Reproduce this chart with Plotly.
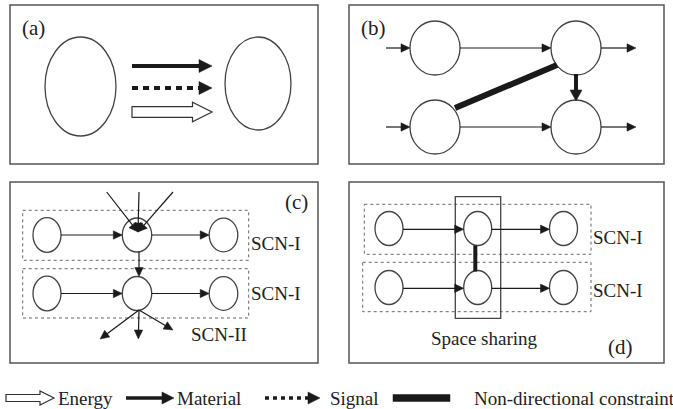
import math
import plotly.graph_objects as go

W, H = 673, 409
DARK = "#1a1a1a"
GRAY = "#444444"
FRAME = "#555555"
FONT = "Liberation Serif"

# ---- diagram content -------------------------------------------------
panel_labels = ["(a)", "(b)", "(c)", "(d)"]
panel_frames = [(10, 5, 318, 164), (349, 5, 664, 164), (10, 182, 318, 363), (349, 182, 664, 363)]
panel_label_pos = [(33.5, 28), (373, 28), (296, 202), (620, 347)]

# (a) two elements and three flow types
a_nodes = [(80.5, 86.5, 35.5, 49.5), (258, 83.5, 33, 46.5)]
a_flow_y = [66, 88, 112]
a_flow_x = (132, 212)

# (b) four elements
b_nodes = [(435, 48), (576, 48), (435, 127), (576, 127)]
b_r = (25, 27)

# (c) stacked SCN-I rows
c_row_y = [235, 293.5]
c_node_x = [47, 137, 223.5]
c_node_r = [(14, 17.3), (14.7, 17), (14.3, 16.8)]
c_boxes = [(22.7, 210.3, 248.7, 260.3), (22.7, 268.7, 248.7, 318)]
c_in_starts = [(106.7, 192), (139, 192), (173, 192)]
c_out_ends = [(100, 339), (138.3, 339), (173, 330)]
c_labels = ["SCN-I", "SCN-I", "SCN-II"]
c_label_pos = [(275.5, 243.5), (275.5, 293.5), (219, 334)]

# (d) space sharing
d_row_y = [228.5, 287.5]
d_node_x = [389, 477.7, 563.5]
d_node_r = (14, 17)
d_boxes = [(364.3, 204.3, 591, 254.3), (362.7, 262.3, 591, 311.7)]
d_share = (455.3, 196.7, 500.7, 318.3)
d_labels = ["SCN-I", "SCN-I", "Space sharing"]
d_label_pos = [(617.5, 237), (617.5, 290), (484.7, 338)]

# legend
legend_labels = ["Energy", "Material", "Signal", "Non-directional constraint"]
legend_y = 398
legend_sym_x = [(6, 54), (126, 174), (265, 320), (393, 450)]
legend_text_x = [56, 175, 328, 472]

shapes = []
annotations = []


def line(x0, y0, x1, y1, w=1.2, color=DARK, dash=None):
    d = dict(type="line", xref="x", yref="y", x0=x0, y0=y0, x1=x1, y1=y1,
             line=dict(color=color, width=w))
    if dash:
        d["line"]["dash"] = dash
    shapes.append(d)


def ellipse(cx, cy, rx, ry, w=1.3, color=GRAY):
    shapes.append(dict(type="circle", xref="x", yref="y", x0=cx - rx, x1=cx + rx,
                       y0=cy - ry, y1=cy + ry, line=dict(color=color, width=w),
                       fillcolor="rgba(0,0,0,0)"))


def rect(x0, y0, x1, y1, w=1.5, color=FRAME, dash=None, fill="rgba(0,0,0,0)"):
    d = dict(type="rect", xref="x", yref="y", x0=x0, y0=y0, x1=x1, y1=y1,
             line=dict(color=color, width=w), fillcolor=fill)
    if dash:
        d["line"]["dash"] = dash
    shapes.append(d)


def poly(pts, fill=DARK, color=DARK, w=0.5):
    path = "M " + " L ".join(f"{x:.2f},{y:.2f}" for x, y in pts) + " Z"
    shapes.append(dict(type="path", xref="x", yref="y", path=path,
                       fillcolor=fill, line=dict(color=color, width=w)))


def arrow(x0, y0, x1, y1, w=1.2, L=9, hw=4.2, color=DARK, dash=None):
    dx, dy = x1 - x0, y1 - y0
    n = math.hypot(dx, dy)
    ux, uy = dx / n, dy / n
    bx, by = x1 - ux * L, y1 - uy * L
    line(x0, y0, bx + ux * 0.5, by + uy * 0.5, w, color, dash)
    px, py = -uy, ux
    poly([(x1, y1), (bx + px * hw, by + py * hw), (bx - px * hw, by - py * hw)], color, color)


def hollow_arrow(x0, x1, yc, bh, hh, hl):
    xb = x1 - hl
    pts = [(x0, yc - bh), (xb, yc - bh), (xb, yc - hh), (x1, yc), (xb, yc + hh),
           (xb, yc + bh), (x0, yc + bh)]
    poly(pts, fill="white", color="#333333", w=1.2)


def text(x, y, s, size=19, anchor="center"):
    annotations.append(dict(x=x, y=y, xref="x", yref="y", text=s, showarrow=False,
                            xanchor=anchor, yanchor="middle",
                            font=dict(family=FONT, size=size, color="#222222")))


# frames and panel labels
for (x0, y0, x1, y1), lab, (lx, ly) in zip(panel_frames, panel_labels, panel_label_pos):
    rect(x0, y0, x1, y1)
    text(lx, ly, lab, size=21)

# ---- (a)
for cx, cy, rx, ry in a_nodes:
    ellipse(cx, cy, rx, ry)
arrow(a_flow_x[0], a_flow_y[0], a_flow_x[1], a_flow_y[0], w=4, L=13, hw=6.5)
arrow(a_flow_x[0], a_flow_y[1], a_flow_x[1], a_flow_y[1], w=4, L=13, hw=6.5, dash="6px,5px")
hollow_arrow(a_flow_x[0], a_flow_x[1], a_flow_y[2], 5.3, 9.7, 19.5)

# ---- (b)
rx, ry = b_r
for cx, cy in b_nodes:
    ellipse(cx, cy, rx, ry)
for row in (0, 2):
    lx, ly = b_nodes[row]
    rxn, ryn = b_nodes[row + 1]
    arrow(lx - rx - 24, ly, lx - rx, ly)
    arrow(lx + rx, ly, rxn - rx, ryn)
    arrow(rxn + rx, ryn, rxn + rx + 35, ryn)
# non-directional constraint between bottom-left and top-right
line(455, 108, 557, 65, w=6, color=DARK)
# vertical material flow
arrow(b_nodes[1][0], b_nodes[1][1] + ry - 1, b_nodes[3][0], b_nodes[3][1] - ry + 1, w=4, L=11, hw=6)

# ---- (c)
for bx0, by0, bx1, by1 in c_boxes:
    rect(bx0, by0, bx1, by1, w=1, color="#666666", dash="dot")
for cy in c_row_y:
    for cx, (rxn, ryn) in zip(c_node_x, c_node_r):
        ellipse(cx, cy, rxn, ryn)
    arrow(c_node_x[0] + c_node_r[0][0], cy, c_node_x[1] - c_node_r[1][0], cy)
    arrow(c_node_x[1] + c_node_r[1][0], cy, c_node_x[2] - c_node_r[2][0], cy)
hub = (138, 232)
for sx, sy in c_in_starts:
    arrow(sx, sy, hub[0], hub[1], L=9, hw=4.5)
arrow(139, c_row_y[0] + 17, 139, c_row_y[1] - 17)
for ex, ey in c_out_ends:
    arrow(139, c_row_y[1] + 16.5, ex, ey)
for s, (lx, ly) in zip(c_labels, c_label_pos):
    text(lx, ly, s)

# ---- (d)
for bx0, by0, bx1, by1 in d_boxes:
    rect(bx0, by0, bx1, by1, w=1, color="#666666", dash="dot")
rect(*d_share, w=1.3, color="#444444")
rx, ry = d_node_r
for cy in d_row_y:
    for cx in d_node_x:
        ellipse(cx, cy, rx, ry)
    arrow(d_node_x[0] + rx, cy + 0.8, d_node_x[1] - rx, cy + 0.8)
    arrow(d_node_x[1] + rx, cy + 0.8, d_node_x[2] - rx, cy + 0.8)
line(d_node_x[1] - 2.4, d_row_y[0] + ry, d_node_x[1] - 2.4, d_row_y[1] - ry + 1, w=4)
for s, (lx, ly) in zip(d_labels, d_label_pos):
    text(lx, ly, s)

# ---- legend
(e0, e1), (m0, m1), (s0, s1), (n0, n1) = legend_sym_x
hollow_arrow(e0, e1, legend_y, 3.5, 7, 14)
arrow(m0, legend_y, m1, legend_y, w=3.5, L=12, hw=6)
arrow(s0, legend_y, s1, legend_y, w=3.5, L=12, hw=6, dash="4px,4px")
rect(n0, legend_y - 3.5, n1, legend_y + 3.5, w=0.5, color=DARK, fill=DARK)
for s, x in zip(legend_labels, legend_text_x):
    text(x, legend_y, s, anchor="left")

fig = go.Figure()
fig.update_layout(
    width=W, height=H, margin=dict(l=0, r=0, t=0, b=0),
    paper_bgcolor="white", plot_bgcolor="white",
    xaxis=dict(range=[0, W], visible=False, fixedrange=True),
    yaxis=dict(range=[H, 0], visible=False, fixedrange=True),
    shapes=shapes, annotations=annotations, showlegend=False,
)
fig.write_html(
    "out.html",
    config={"displayModeBar": False},
    post_script="document.body.style.margin='0';document.body.style.overflow='hidden';",
)
